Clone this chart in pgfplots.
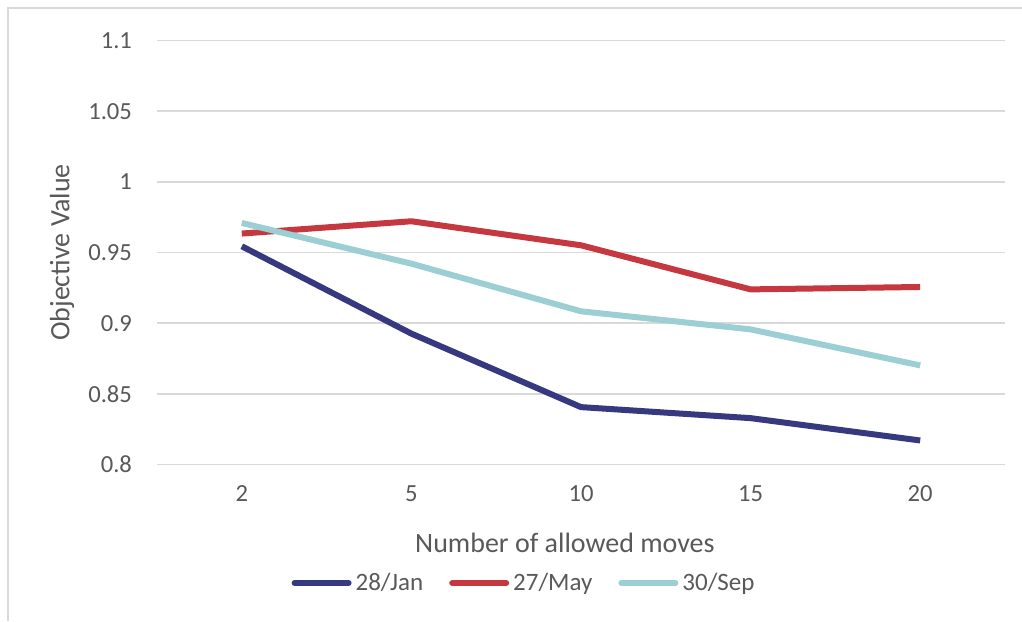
\documentclass[border=0pt]{standalone}
\usepackage{pgfplots}
\pgfplotsset{compat=1.18}
\usepackage{fontspec}
\setmainfont{Carlito}

\definecolor{gridgray}{HTML}{D9D9D9}
\definecolor{textgray}{HTML}{595959}
\definecolor{jancol}{HTML}{363880}
\definecolor{maycol}{HTML}{C5383F}
\definecolor{sepcol}{HTML}{9BCFD3}

\begin{document}
\begin{tikzpicture}
% page frame (1 px = 0.5 pt)
\useasboundingbox (0,0) rectangle (511pt,310.5pt);
\draw[gridgray, line width=0.8pt] (4pt,0) -- (4pt,306.5pt) -- (511pt,306.5pt);

\begin{axis}[
  at={(78.5pt,78.25pt)}, anchor=south west,
  scale only axis,
  width=424pt, height=212pt,
  xmin=-0.5, xmax=4.5,
  ymin=0.8, ymax=1.1,
  xtick={0,1,2,3,4},
  xticklabels={2,5,10,15,20},
  ytick={0.8,0.85,0.9,0.95,1,1.05,1.1},
  yticklabels={0.8,0.85,0.9,0.95,1,1.05,1.1},
  major tick length=0pt,
  axis line style={draw=none},
  ymajorgrids,
  grid style={gridgray, line width=0.75pt},
  tick label style={font=\fontsize{12.3}{14}\selectfont, text=textgray},
  yticklabel style={anchor=east, xshift=-9pt},
  xticklabel style={anchor=north, yshift=-7pt},
  xlabel={Number of allowed moves},
  ylabel={Objective Value},
  label style={font=\fontsize{14}{16}\selectfont, text=textgray},
  xlabel style={at={(axis description cs:0.481,-0.185)}, anchor=center},
  ylabel style={at={(axis description cs:-0.112,0.5)}, anchor=center, rotate=0},
  legend columns=3,
  legend style={at={(axis description cs:0.434,-0.2795)}, anchor=center,
    draw=none, fill=none, font=\fontsize{12.5}{14}\selectfont, text=textgray,
    /tikz/every even column/.append style={column sep=11pt}},
  legend image code/.code={\draw[#1, line cap=round] (0pt,0pt) -- (27pt,0pt);},
  every axis plot/.append style={line width=3pt, line join=round},
  clip=false,
]
\addplot[jancol] coordinates {(0,0.9544) (1,0.8926) (2,0.8406) (3,0.8328) (4,0.8170)};
\addplot[maycol] coordinates {(0,0.9634) (1,0.9721) (2,0.9551) (3,0.9239) (4,0.9256)};
\addplot[sepcol] coordinates {(0,0.9709) (1,0.9421) (2,0.9084) (3,0.8956) (4,0.8701)};
\legend{28/Jan, 27/May, 30/Sep}
\end{axis}
\end{tikzpicture}
\end{document}
